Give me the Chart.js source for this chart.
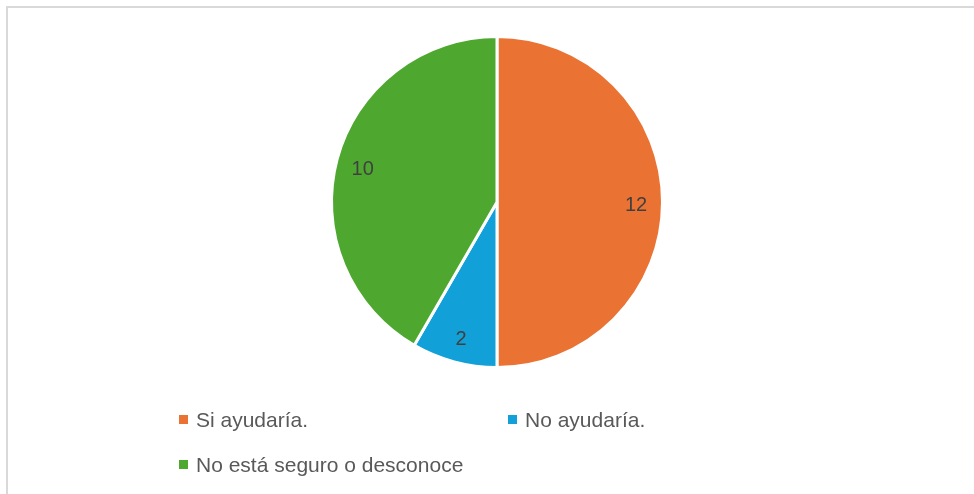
<!DOCTYPE html>
<html>
<head>
<meta charset="utf-8">
<script src="https://cdn.jsdelivr.net/npm/chart.js@4"></script>
<style>
  html, body { margin: 0; padding: 0; background: #fff; }
  #wrap { position: relative; width: 974px; height: 494px; overflow: hidden; }
  #frame { position: absolute; left: 6px; top: 6px; width: 1000px; height: 600px; border: 2px solid #d9d9d9; box-sizing: border-box; }
  canvas { position: absolute; left: 0; top: 0; }
</style>
</head>
<body>
<div id="wrap">
  <div id="frame"></div>
  <canvas id="c" width="974" height="494"></canvas>
</div>
<script>
const categories = ['Si ayudaría.', 'No ayudaría.', 'No está seguro o desconoce'];
const values = [12, 2, 10];
const colors = ['#ea7334', '#11a0d8', '#4ea82f'];

const FONT = '"Liberation Sans", Arial, sans-serif';

const labelPlugin = {
  id: 'sliceLabels',
  afterDatasetsDraw(chart) {
    const ctx = chart.ctx;
    const meta = chart.getDatasetMeta(0);
    ctx.save();
    ctx.font = '20px ' + FONT;
    ctx.fillStyle = '#404040';
    ctx.textAlign = 'center';
    ctx.textBaseline = 'middle';
    meta.data.forEach((arc, i) => {
      const p = arc.getProps(['x', 'y', 'startAngle', 'endAngle', 'outerRadius'], true);
      const mid = (p.startAngle + p.endAngle) / 2;
      const r = p.outerRadius * 0.84;
      ctx.fillText(String(values[i]), p.x + Math.cos(mid) * r, p.y + Math.sin(mid) * r + 3);
    });
    ctx.restore();
  }
};

const legendPlugin = {
  id: 'customLegend',
  afterDraw(chart) {
    const ctx = chart.ctx;
    const pos = [[179, 420], [508, 420], [179, 465]];
    ctx.save();
    ctx.font = '21px ' + FONT;
    ctx.textBaseline = 'middle';
    ctx.textAlign = 'left';
    chart.data.labels.forEach((lab, i) => {
      const [x, y] = pos[i];
      ctx.fillStyle = chart.data.datasets[0].backgroundColor[i];
      ctx.fillRect(x, y - 5, 9, 9);
      ctx.fillStyle = '#595959';
      ctx.fillText(lab, x + 17, y + 1);
    });
    ctx.restore();
  }
};

new Chart(document.getElementById('c'), {
  type: 'pie',
  data: {
    labels: categories,
    datasets: [{
      data: values,
      backgroundColor: colors,
      borderColor: '#ffffff',
      borderWidth: 3
    }]
  },
  options: {
    responsive: false,
    animation: false,
    layout: { padding: { left: 20, right: 0, top: 35, bottom: 125 } },
    plugins: {
      legend: { display: false },
      tooltip: { enabled: false }
    }
  },
  plugins: [labelPlugin, legendPlugin]
});
</script>
</body>
</html>
